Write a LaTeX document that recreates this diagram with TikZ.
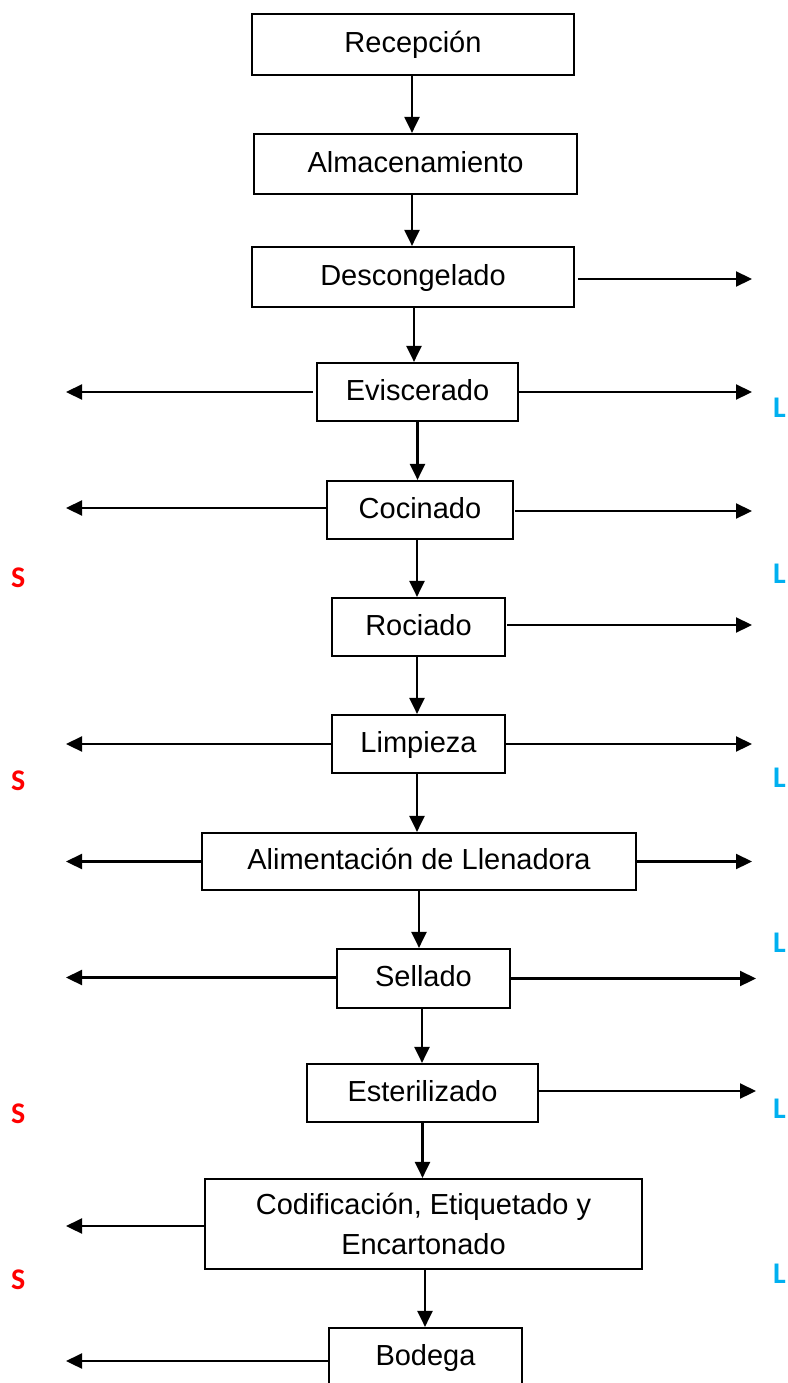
\documentclass[tikz,border=0pt]{standalone}
\usepackage{fontspec}
\setmainfont{Liberation Sans}
\newfontfamily\tagfont{Carlito}
\usetikzlibrary{arrows.meta,calc}
\definecolor{tagred}{RGB}{255,0,0}
\definecolor{tagblue}{RGB}{0,176,240}

\begin{document}
\begin{tikzpicture}[x=1pt,y=-1pt,
  stage/.style={draw, line width=2.2pt, inner sep=0pt, align=center,
    font=\fontsize{29}{40}\selectfont},
  oneline/.style={stage, text height=21.75pt, text depth=5.25pt},
  flow/.style={line width=2.2pt, -{Triangle[length=16pt,width=15pt]}},
  tagS/.style={anchor=base west, inner sep=0pt, text=tagred,
    font=\tagfont\bfseries\fontsize{30}{30}\selectfont},
  tagL/.style={anchor=base west, inner sep=0pt, text=tagblue,
    font=\tagfont\bfseries\fontsize{30}{30}\selectfont}]
\useasboundingbox (0,0) rectangle (787,1383);

% process stages, top to bottom
\node[oneline, minimum width=322pt, minimum height=61pt] (rec) at (413,44.5) {Recepción};
\node[oneline, minimum width=323pt, minimum height=60pt] (alm) at (415.5,164) {Almacenamiento};
\node[oneline, minimum width=322pt, minimum height=60pt] (des) at (413,277) {Descongelado};
\node[oneline, minimum width=201pt, minimum height=58pt] (evi) at (417.5,392) {Eviscerado};
\node[oneline, minimum width=186pt, minimum height=58pt] (coc) at (420,510) {Cocinado};
\node[oneline, minimum width=173pt, minimum height=58pt] (roc) at (418.5,627) {Rociado};
\node[oneline, minimum width=173pt, minimum height=58pt] (lim) at (418.5,744) {Limpieza};
\node[oneline, minimum width=434pt, minimum height=57pt] (ali) at (419,861.5) {Alimentación de Llenadora};
\node[oneline, minimum width=173pt, minimum height=59pt] (sel) at (423.5,978.5) {Sellado};
\node[oneline, minimum width=231pt, minimum height=58pt] (est) at (422.5,1093) {Esterilizado};
\node[stage, minimum width=437pt, minimum height=90pt] (cod) at (423.5,1224) {Codificación, Etiquetado y\\Encartonado};
\node[oneline, minimum width=193pt, minimum height=58pt] (bod) at (425.5,1357) {Bodega};

% ends of the side outputs
\coordinate (rtip) at (752,0);
\coordinate (rtipB) at (756,0);
\coordinate (ltip) at (66,0);

% main flow
\draw[flow] ([xshift=-1pt]rec.south) -- ([xshift=-1pt]rec.south |- alm.north);
\draw[flow] ([xshift=-3.5pt]alm.south) -- ([xshift=-3.5pt]alm.south |- des.north);
\draw[flow] ([xshift=1pt]des.south) -- ([xshift=1pt]des.south |- evi.north);
\draw[flow] (evi.south) -- (evi.south |- coc.north);
\draw[flow] ([xshift=-3pt]coc.south) -- ([xshift=-3pt]coc.south |- roc.north);
\draw[flow] ([xshift=-1.5pt]roc.south) -- ([xshift=-1.5pt]roc.south |- lim.north);
\draw[flow] ([xshift=-1.5pt]lim.south) -- ([xshift=-1.5pt]lim.south |- ali.north);
\draw[flow] (ali.south) -- (ali.south |- sel.north);
\draw[flow] ([xshift=-1.5pt]sel.south) -- ([xshift=-1.5pt]sel.south |- est.north);
\draw[flow] (est.south) -- (est.south |- cod.north);
\draw[flow] ([xshift=1.5pt]cod.south) -- ([xshift=1.5pt]cod.south |- bod.north);

% outputs to the right
\draw[flow] ([xshift=3pt,yshift=-2pt]des.east) -- ([yshift=-2pt]des.east -| rtip);
\draw[flow] (evi.east) -- (evi.east -| rtip);
\draw[flow] ([xshift=1pt,yshift=-1pt]coc.east) -- ([yshift=-1pt]coc.east -| rtip);
\draw[flow] ([xshift=1pt,yshift=2pt]roc.east) -- ([yshift=2pt]roc.east -| rtip);
\draw[flow] (lim.east) -- (lim.east -| rtip);
\draw[flow] (ali.east) -- (ali.east -| rtip);
\draw[flow] (sel.east) -- (sel.east -| rtipB);
\draw[flow] ([yshift=2pt]est.east) -- ([yshift=2pt]est.east -| rtipB);

% outputs to the left
\draw[flow] ([xshift=-3pt]evi.west) -- (evi.west -| ltip);
\draw[flow] ([yshift=2pt]coc.west) -- ([yshift=2pt]coc.west -| ltip);
\draw[flow] (lim.west) -- (lim.west -| ltip);
\draw[flow] (ali.west) -- (ali.west -| ltip);
\draw[flow] ([yshift=1pt]sel.west) -- ([yshift=1pt]sel.west -| ltip);
\draw[flow] ([yshift=-2pt]cod.west) -- ([yshift=-2pt]cod.west -| ltip);
\draw[flow] ([yshift=-4pt]bod.west) -- ([yshift=-4pt]bod.west -| ltip);

% side markers
\node[tagL] (l1) at (773,417) {L};
\node[tagL] (l2) at (773,583) {L};
\node[tagL] (l3) at (773,787) {L};
\node[tagL] (l4) at (773,952) {L};
\node[tagL] (l5) at (773,1118) {L};
\node[tagL] (l6) at (773,1283) {L};
\node[tagS] (s1) at (11,587) {S};
\node[tagS] (s2) at (11,790) {S};
\node[tagS] (s3) at (11,1123) {S};
\node[tagS] (s4) at (11,1289) {S};
\end{tikzpicture}
\end{document}
